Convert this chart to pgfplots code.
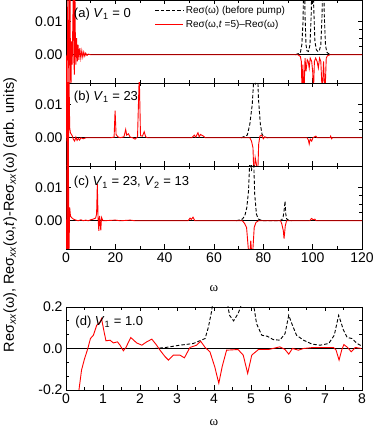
\documentclass[border=0pt]{standalone}
\usepackage{fontspec}
\setmainfont{Liberation Sans}
\newfontfamily\serifw{Liberation Serif}
\usepackage{pgfplots}
\pgfplotsset{compat=1.18}
\pgfplotsset{
  common/.style={
    width=296pt, height=83pt, scale only axis, anchor=south west,
    xmin=0, xmax=120, ymin=-0.0085, ymax=0.0165,
    xtick={0,20,...,120}, minor x tick num=1,
    ytick={0,0.01}, minor y tick num=3,
    tick align=inside,
    scaled y ticks=false,
    yticklabel style={/pgf/number format/.cd, fixed, fixed zerofill, precision=2},
    /pgf/number format/assume math mode=true,
    tick label style={font=\fontsize{14}{16}\selectfont},
    axis line style={line width=0.9pt},
    every tick/.style={black, line width=0.8pt},
    major tick length=4.5pt, minor tick length=2.8pt,
  },
  redl/.style={red, line width=0.9pt, forget plot},
  dashl/.style={black, dashed, dash pattern=on 3.5pt off 2pt, line width=0.9pt, forget plot},
  zerol/.style={black, line width=0.7pt, forget plot},
}
\begin{document}
\begin{tikzpicture}[x=1pt,y=1pt]
\path[use as bounding box] (0,0) rectangle (374,427);

% ---------------- (a)
\begin{axis}[common, at={(66pt,344pt)}, xticklabels={},
  legend style={at={(0.30,0.95)}, anchor=north west, draw=none, fill=none,
    font=\fontsize{10}{12}\selectfont, row sep=1pt, inner sep=0pt},
  legend cell align=left,
  legend image code/.code={\draw[#1] (0pt,0pt) -- (28pt,0pt);}]
\addlegendimage{black, dashed, dash pattern=on 3.5pt off 2pt, line width=0.9pt}
\addlegendentry{Reσ(ω) (before pump)}
\addlegendimage{red, line width=0.9pt}
\addlegendentry{Reσ(ω,\textit{t} =5)–Reσ(ω)}
\addplot[zerol] coordinates {(0,0) (120,0)};
\addplot[dashl] coordinates {(93,0) (94,0.0003) (95,0.0006) (95.6,0.003) (96.1,0.01) (96.5,0.03) (96.9,0.012) (97.3,0.003) (97.7,0.0012) (98.3,0.001) (98.9,0.003) (99.4,0.012) (99.9,0.03) (100.4,0.015) (100.9,0.004) (101.5,0.0015) (102.1,0.001) (102.7,0.0012) (103.3,0.003) (103.8,0.012) (104.3,0.03) (104.7,0.012) (105.2,0.003) (105.7,0.0008) (106.5,0.0003) (107.5,0)};
\addplot[redl] coordinates {(0,0) (0.2,-0.004) (0.4,-0.015) (0.6,0.006) (0.8,0.025) (1.0,0.003) (1.2,-0.012) (1.4,0.008) (1.6,0.025) (1.8,-0.003) (2.0,-0.012) (2.2,0.004) (2.5,-0.003) (2.8,0.011) (3.0,0.025) (3.2,-0.002) (3.4,-0.006) (3.6,0.022) (3.8,0.004) (4.0,-0.003) (4.3,0.005) (4.6,-0.002) (4.9,0.003) (5.2,-0.0015) (5.6,0.002) (6.0,-0.001) (6.4,0.0012) (6.8,-0.0007) (7.2,0.0008) (7.6,-0.0004) (8.0,0.0005) (8.5,-0.0002) (9,0.0002) (10,0) (94,0) (95,-0.0005) (95.4,-0.002) (95.7,-0.012) (96.0,-0.003) (96.5,-0.012) (96.9,-0.001) (97.3,-0.005) (97.8,-0.0015) (98.2,-0.002) (98.6,-0.004) (99.0,-0.001) (99.6,-0.002) (100.0,-0.005) (100.3,-0.012) (100.7,-0.002) (101.2,-0.001) (101.8,-0.002) (102.3,-0.004) (102.8,-0.001) (103.3,-0.002) (103.9,-0.012) (104.4,-0.002) (105.0,-0.012) (105.5,-0.001) (106,-0.0003) (107,0) (120,0)};
\node[anchor=west, font=\fontsize{13}{15}\selectfont] at (rel axis cs:0.015,0.83) {(a) \textit{V}\textsubscript{1} = 0};
\end{axis}

% ---------------- (b)
\begin{axis}[common, at={(66pt,261pt)}, xticklabels={}]
\addplot[zerol] coordinates {(0,0) (120,0)};
\addplot[dashl] coordinates {(71,0) (72,0.0003) (73.5,0.0008) (74.5,0.004) (75.5,0.01) (76.3,0.02) (76.8,0.016) (77.3,0.03) (78,0.012) (78.8,0.004) (79.5,0.001) (80.5,0.0002) (82,0)};
\addplot[redl] coordinates {(0,0) (0.2,0.03) (0.45,-0.012) (0.7,0.025) (0.95,-0.01) (1.2,0.02) (1.5,0.003) (1.8,0.0015) (2.2,0.001) (2.6,0.0005) (3,-0.0005) (3.5,-0.001) (4,0.0002) (4.5,-0.0008) (5,-0.0002) (5.5,-0.0007) (6,0) (7,-0.0003) (8,0) (18,0) (19.5,0.0002) (19.9,0.0082) (20.3,0.001) (21,0.0003) (22,0) (23.5,0.0003) (24.2,0.0025) (24.6,0.0008) (25.3,0.0012) (26,0.0002) (27,0) (28,-0.0004) (29,0.0003) (29.7,0.019) (30.2,0.0006) (31,0.0005) (31.7,0.0018) (32.3,0.0003) (33,0) (51,0) (52,0.0008) (52.6,0.0002) (53.5,0.0015) (54,0.0003) (54.5,0.001) (55.5,0.0006) (56.5,0) (74.5,0) (75.2,-0.001) (75.8,-0.003) (76.2,-0.012) (76.7,-0.006) (77.2,-0.008) (77.7,-0.012) (78.1,-0.002) (78.6,0.0005) (79.3,0.0008) (80,-0.0003) (80.6,0.0003) (81,0) (97.8,0) (98.3,-0.0008) (98.6,-0.0019) (99,-0.0004) (99.6,-0.001) (100.1,0) (101.3,0.0005) (101.8,0) (107,0) (107.3,0.0005) (107.7,-0.0003) (108,0) (120,0)};
\node[anchor=west, font=\fontsize{13}{15}\selectfont] at (rel axis cs:0.015,0.83) {(b) \textit{V}\textsubscript{1} = 23};
\end{axis}

% ---------------- (c)
\begin{axis}[common, at={(66pt,178pt)},
  xlabel={\serifw ω}, xlabel style={font=\fontsize{13}{15}\selectfont, at={(axis description cs:0.5,-0.48)}, anchor=center}]
\addplot[zerol] coordinates {(0,0) (120,0)};
\addplot[dashl] coordinates {(69,0) (70,0.0002) (71.5,0.0005) (72.5,0.0015) (73.3,0.004) (74,0.009) (74.6,0.02) (75.2,0.015) (75.8,0.025) (76.5,0.008) (77.2,0.002) (78,0.0005) (79,0.0002) (80,0) (86.5,0) (87.5,0.0003) (88,0.001) (88.4,0.003) (88.8,0.0059) (89.1,0.002) (89.5,0.0005) (90.5,0.0001) (91.5,0)};
\addplot[redl] coordinates {(0,0) (0.2,-0.012) (0.45,0.025) (0.7,-0.012) (0.95,0.02) (1.2,-0.01) (1.5,0.004) (1.8,0.0015) (2.2,0.001) (3,0.0005) (4,0.0002) (5,0) (6,0.0003) (7,0) (8,0.0002) (9,0) (10,0.0003) (11,0.0005) (12,0.0008) (12.4,0.002) (12.7,0.011) (13,0.001) (13.3,-0.003) (13.6,0.0015) (14.1,-0.0029) (14.4,0.001) (15,0) (20,0.0002) (22,0) (26,0.0002) (28,0) (49.5,0) (50.3,0.0008) (50.8,0.0004) (51.5,0.0011) (52.2,0) (71.5,0) (72.4,-0.0008) (73.2,-0.002) (74.3,-0.012) (74.9,-0.006) (75.5,-0.012) (76.3,-0.002) (77,-0.0005) (78,0) (87,0) (87.5,-0.001) (88.1,-0.003) (88.4,-0.0054) (88.9,-0.0015) (89.4,0) (98.8,0) (99.3,0.0005) (99.6,0.0007) (100.1,0.0003) (100.9,0.0005) (101.4,0) (120,0)};
\node[anchor=west, font=\fontsize{13}{15}\selectfont] at (rel axis cs:0.015,0.80) {(c) \textit{V}\textsubscript{1} = 23, \textit{V}\textsubscript{2} = 13};
\end{axis}

% ---------------- (d)
\begin{axis}[common, at={(66pt,37pt)},
  xmin=0, xmax=8, ymin=-0.2, ymax=0.2,
  xtick={0,1,...,8}, minor x tick num=1,
  ytick={-0.2,0,0.2}, minor y tick num=2,
  yticklabel style={/pgf/number format/.cd, fixed, fixed zerofill, precision=1},
  xlabel={\serifw ω}, xlabel style={font=\fontsize{13}{15}\selectfont, at={(axis description cs:0.5,-0.39)}, anchor=center}]
\addplot[zerol, line width=0.9pt] coordinates {(0,0) (8,0)};
\addplot[dashl] coordinates {(0,0) (2.4,0) (2.7,0.005) (3.08,0.016) (3.44,0.024) (3.76,0.048) (3.85,0.104) (3.94,0.184) (4.05,0.35) (4.2,0.45) (4.33,0.3) (4.38,0.2) (4.42,0.16) (4.53,0.133) (4.65,0.168) (4.72,0.2) (4.85,0.35) (5.0,0.3) (5.08,0.2) (5.15,0.12) (5.29,0.064) (5.44,0.059) (5.6,0.043) (5.78,0.04) (5.92,0.072) (6.02,0.16) (6.12,0.112) (6.23,0.064) (6.42,0.04) (6.65,0.021) (6.87,0.016) (7.1,0.024) (7.25,0.064) (7.37,0.16) (7.5,0.088) (7.6,0.053) (7.73,0.048) (7.87,0.024) (8.0,0.011)};
\addplot[redl] coordinates {(0.3,-0.3) (0.35,-0.2) (0.42,-0.104) (0.5,-0.05) (0.59,0) (0.66,0.048) (0.74,0.064) (0.83,0.112) (0.92,0.128) (0.96,0.144) (1.03,0.08) (1.08,0.037) (1.19,0.04) (1.28,0.027) (1.39,0.032) (1.46,0.016) (1.55,-0.011) (1.62,0.005) (1.75,0.053) (1.91,0.027) (2.05,0.016) (2.18,0.032) (2.32,0.045) (2.45,0.016) (2.54,-0.008) (2.68,-0.04) (2.77,-0.056) (2.9,-0.032) (3.08,-0.032) (3.2,-0.045) (3.35,0.005) (3.53,0.016) (3.64,0.035) (3.76,0.005) (3.89,-0.016) (4.02,-0.088) (4.13,-0.168) (4.22,-0.088) (4.34,-0.008) (4.65,-0.005) (4.79,-0.032) (4.91,-0.12) (5.02,-0.032) (5.2,-0.005) (5.47,-0.005) (5.78,0.008) (5.92,-0.005) (6.02,-0.027) (6.12,0) (6.28,-0.008) (6.42,0) (6.69,0.005) (7.23,0.005) (7.3,-0.008) (7.38,-0.056) (7.45,-0.008) (7.51,0.019) (7.61,0.005) (7.71,-0.016) (7.82,0.005) (7.98,0)};
\node[anchor=west, font=\fontsize{13}{15}\selectfont] at (rel axis cs:0.02,0.82) {(d) \textit{V}\textsubscript{1} = 1.0};
\end{axis}

\node[rotate=90, font=\fontsize{14.5}{16}\selectfont] at (10,212)
  {Reσ\textsubscript{\textit{xx}}(ω), Reσ\textsubscript{\textit{xx}}(ω,\textit{t})-Reσ\textsubscript{\textit{xx}}(ω) (arb. units)};
\end{tikzpicture}
\end{document}
